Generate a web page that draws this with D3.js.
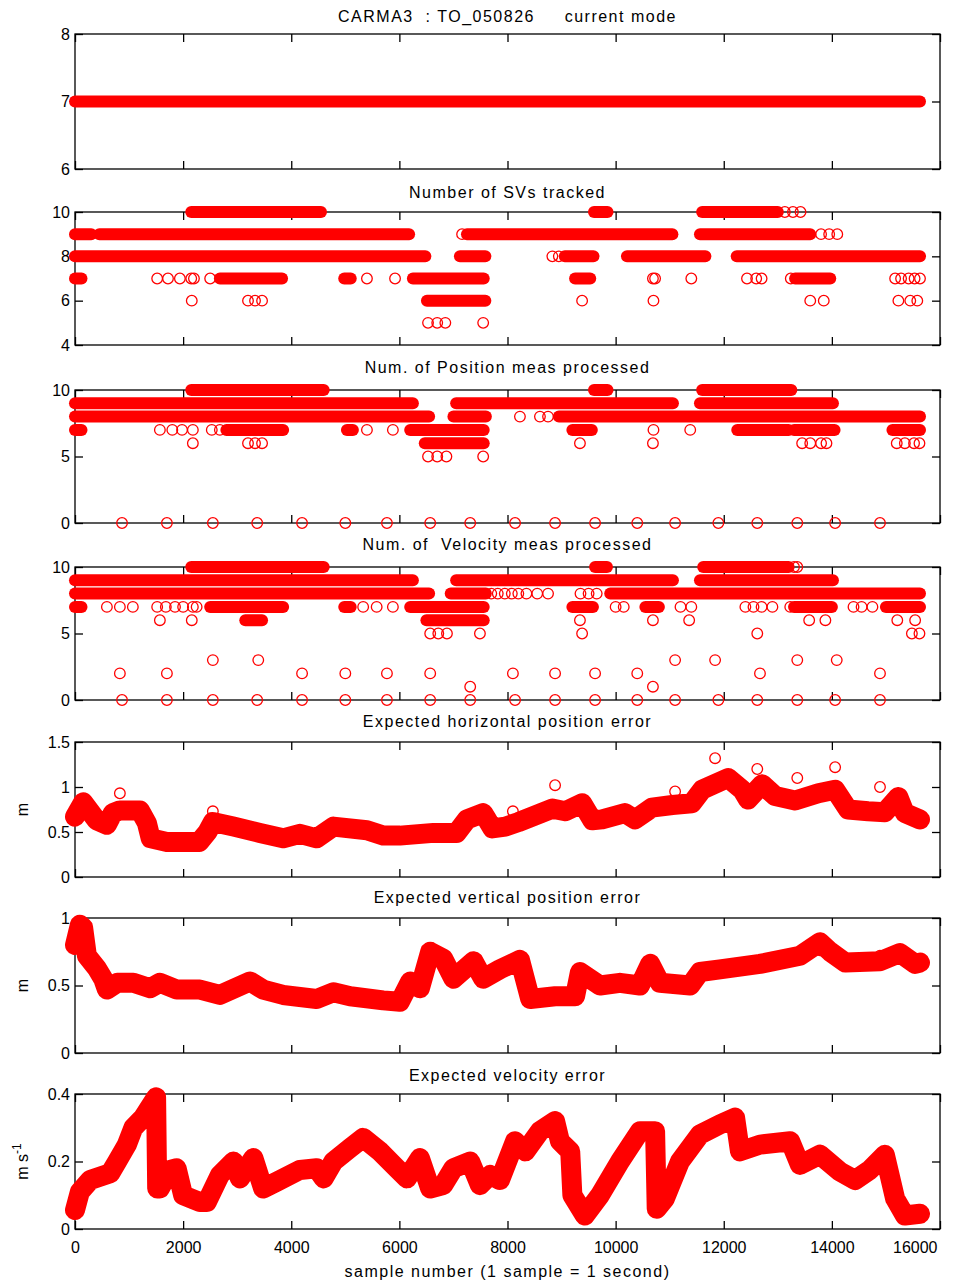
<!DOCTYPE html>
<html>
<head>
<meta charset="utf-8">
<script src="https://cdn.jsdelivr.net/npm/d3@7"></script>
<style>
  body { margin: 0; background: #fff; }
  svg text { font-family: "Liberation Sans", Arial, sans-serif; fill: #000; }
</style>
</head>
<body>
<svg id="chart" width="970" height="1285"></svg>
<script>
// ---- data ----
// runs are dense stretches of markers: [value, firstSample, lastSample]
// points are single markers: [sample, value]
const xTicks = [0, 2000, 4000, 6000, 8000, 10000, 12000, 14000, 16000];

const modeRuns = [[7, 0, 15630]];

const svRuns = [
  [10, 2150, 4550], [10, 9600, 9850], [10, 11600, 13000],
  [9, 0, 300], [9, 450, 6180], [9, 7250, 11050], [9, 11560, 13600],
  [8, 0, 6480], [8, 7120, 7590], [8, 9060, 9590], [8, 10210, 11660], [8, 12240, 15630],
  [7, 0, 120], [7, 2680, 3830], [7, 4980, 5100], [7, 6250, 7560], [7, 9250, 9530], [7, 13320, 13970],
  [6, 6510, 7590]
];
const svPoints = [
  [13130, 10], [13280, 10], [13420, 10],
  [7160, 9], [13800, 9], [13950, 9], [14100, 9],
  [8830, 8], [8950, 8],
  [1520, 7], [1720, 7], [1940, 7], [2150, 7], [2200, 7], [2500, 7], [5400, 7], [5920, 7],
  [10690, 7], [10730, 7], [11400, 7], [12430, 7], [12600, 7], [12700, 7], [13240, 7],
  [15170, 7], [15280, 7], [15420, 7], [15530, 7], [15630, 7],
  [2160, 6], [3200, 6], [3330, 6], [3460, 6], [9380, 6], [10700, 6], [13600, 6], [13850, 6],
  [15230, 6], [15450, 6], [15580, 6],
  [6530, 5], [6700, 5], [6850, 5], [7550, 5]
];

const zeroSamples = [870, 1700, 2550, 3370, 4200, 5000, 5770, 6570, 7310, 8140, 8880,
  9620, 10400, 11100, 11900, 12620, 13360, 14060, 14890];

const posRuns = [
  [10, 2150, 4600], [10, 9600, 9850], [10, 11600, 13250],
  [9, 0, 6250], [9, 7050, 11060], [9, 11560, 14020],
  [8, 0, 6550], [8, 7000, 7600], [8, 8950, 15630],
  [7, 0, 120], [7, 2800, 3850], [7, 5030, 5140], [7, 6200, 7560], [7, 9200, 9560],
  [7, 12250, 13200], [7, 13300, 14050], [7, 15120, 15630],
  [6, 6470, 7560]
];
const posPoints = [
  [8230, 8], [8600, 8], [8750, 8],
  [1570, 7], [1800, 7], [1980, 7], [2180, 7], [2530, 7], [2680, 7], [5400, 7], [5880, 7],
  [10700, 7], [11380, 7],
  [2180, 6], [3200, 6], [3330, 6], [3460, 6], [9340, 6], [10690, 6], [13450, 6], [13600, 6],
  [13800, 6], [13900, 6], [15200, 6], [15350, 6], [15520, 6], [15620, 6],
  [6530, 5], [6700, 5], [6870, 5], [7550, 5]
].concat(zeroSamples.map(s => [s, 0]));

const velRuns = [
  [10, 2150, 4600], [10, 9620, 9840], [10, 11620, 13200],
  [9, 0, 6250], [9, 7050, 11060], [9, 11560, 14020],
  [8, 0, 6550], [8, 6950, 7600], [8, 9900, 15630],
  [7, 0, 120], [7, 2500, 3850], [7, 4980, 5100], [7, 6200, 7560], [7, 9200, 9580],
  [7, 10550, 10800], [7, 13300, 14000], [7, 15000, 15630],
  [6, 3150, 3460], [6, 6500, 7560]
];
const velPoints = [
  [13300, 10], [13360, 10],
  [7700, 8], [7820, 8], [7950, 8], [8080, 8], [8200, 8], [8350, 8], [8550, 8], [8750, 8],
  [9350, 8], [9500, 8], [9650, 8],
  [590, 7], [830, 7], [1070, 7], [1520, 7], [1680, 7], [1850, 7], [2000, 7], [2180, 7], [2250, 7],
  [5330, 7], [5580, 7], [5880, 7], [10000, 7], [10150, 7], [11200, 7], [11400, 7],
  [12400, 7], [12550, 7], [12700, 7], [12900, 7], [13230, 7], [14400, 7], [14550, 7], [14750, 7],
  [1570, 6], [2160, 6], [9340, 6], [10690, 6], [11360, 6], [13580, 6], [13880, 6], [15210, 6], [15540, 6],
  [6570, 5], [6720, 5], [6880, 5], [7490, 5], [9380, 5], [12620, 5], [15480, 5], [15620, 5],
  [2550, 3], [3390, 3], [11100, 3], [11840, 3], [13360, 3], [14090, 3],
  [830, 2], [1700, 2], [4200, 2], [5000, 2], [5770, 2], [6570, 2], [8100, 2], [8880, 2],
  [9620, 2], [10400, 2], [12670, 2], [14890, 2],
  [7310, 1], [10690, 1]
].concat(zeroSamples.map(s => [s, 0]));

// continuous error traces: [sample, value]
const hposErr = [
  [0, 0.67], [150, 0.83], [400, 0.63], [590, 0.58], [700, 0.71], [830, 0.74], [1200, 0.74],
  [1330, 0.6], [1400, 0.43], [1700, 0.39], [2300, 0.39], [2450, 0.5], [2550, 0.61], [2930, 0.56],
  [3420, 0.49], [3850, 0.43], [4160, 0.48], [4470, 0.43], [4780, 0.56], [5400, 0.52], [5700, 0.46],
  [6010, 0.46], [6630, 0.49], [7060, 0.49], [7250, 0.64], [7550, 0.71], [7590, 0.67], [7720, 0.54],
  [7960, 0.56], [8200, 0.61], [8830, 0.76], [9070, 0.73], [9380, 0.82], [9570, 0.63], [9750, 0.64],
  [10170, 0.71], [10360, 0.64], [10670, 0.77], [11050, 0.8], [11410, 0.82], [11600, 0.97],
  [12080, 1.1], [12340, 0.97], [12450, 0.86], [12710, 1.03], [12950, 0.9], [13320, 0.85],
  [13750, 0.93], [14060, 0.97], [14300, 0.75], [14670, 0.73], [14980, 0.72], [15230, 0.89],
  [15350, 0.71], [15630, 0.64]
];
const hposOutliers = [
  [830, 0.93], [2550, 0.73], [8100, 0.73], [8880, 1.02], [11100, 0.95], [11840, 1.32],
  [12620, 1.2], [13360, 1.1], [14060, 1.22], [14890, 1.0]
];

const vposErr = [
  [0, 0.8], [90, 0.95], [150, 0.93], [220, 0.72], [400, 0.63], [520, 0.55], [590, 0.47],
  [780, 0.52], [1080, 0.52], [1390, 0.48], [1570, 0.52], [1880, 0.47], [2310, 0.47], [2680, 0.43],
  [3240, 0.53], [3480, 0.47], [3850, 0.43], [4470, 0.4], [4780, 0.45], [5090, 0.42], [5700, 0.39],
  [6010, 0.38], [6200, 0.53], [6380, 0.48], [6570, 0.75], [6810, 0.7], [7000, 0.55], [7370, 0.68],
  [7550, 0.55], [7860, 0.62], [8230, 0.69], [8420, 0.4], [8880, 0.42], [9250, 0.42], [9340, 0.6],
  [9710, 0.5], [10080, 0.52], [10450, 0.5], [10640, 0.66], [10820, 0.52], [11380, 0.5],
  [11560, 0.6], [11930, 0.62], [12670, 0.66], [13410, 0.72], [13780, 0.82], [13970, 0.75],
  [14250, 0.67], [14890, 0.68], [15260, 0.74], [15540, 0.66], [15630, 0.67]
];
const vposOutliers = [[13780, 0.76], [14890, 0.72]];

const velErr = [
  [0, 0.056], [90, 0.11], [280, 0.145], [650, 0.165], [780, 0.2], [960, 0.25], [1080, 0.3],
  [1260, 0.33], [1500, 0.39], [1520, 0.12], [1570, 0.12], [1760, 0.175], [1880, 0.18], [2000, 0.1],
  [2310, 0.08], [2440, 0.08], [2680, 0.16], [2930, 0.2], [3050, 0.15], [3300, 0.21], [3480, 0.12],
  [3730, 0.14], [4160, 0.175], [4470, 0.18], [4600, 0.15], [4780, 0.2], [5090, 0.24], [5330, 0.27],
  [5640, 0.23], [5950, 0.18], [6140, 0.15], [6380, 0.21], [6570, 0.12], [6810, 0.13], [7000, 0.18],
  [7310, 0.2], [7490, 0.13], [7680, 0.16], [7860, 0.145], [8140, 0.26], [8330, 0.23], [8600, 0.29],
  [8880, 0.32], [8970, 0.26], [9160, 0.23], [9200, 0.1], [9430, 0.04], [9710, 0.1], [10080, 0.2],
  [10450, 0.29], [10730, 0.29], [10760, 0.06], [10910, 0.09], [11190, 0.2], [11560, 0.28],
  [11930, 0.31], [12210, 0.33], [12300, 0.23], [12670, 0.25], [13230, 0.26], [13410, 0.19],
  [13780, 0.22], [14150, 0.17], [14430, 0.145], [14700, 0.175], [14980, 0.22], [15170, 0.09],
  [15350, 0.04], [15630, 0.045]
];
const velOutliers = [
  [1500, 0.344], [1500, 0.314], [1500, 0.285], [1500, 0.249], [1500, 0.22], [1500, 0.184],
  [9180, 0.17], [9180, 0.12], [9180, 0.09],
  [10740, 0.23], [10740, 0.18], [10740, 0.13], [10740, 0.09]
];

// ---- layout ----
const RED = "#ff0000";
const left = 75, right = 940;
const svg = d3.select("#chart");
const x = d3.scaleLinear().domain([0, 16000]).range([left, right]);

const panels = [
  { title: "CARMA3  : TO_050826     current mode", top: 34, h: 135, titleY: 22,
    domain: [6, 8], ticks: [6, 7, 8], runs: modeRuns, points: [] },
  { title: "Number of SVs tracked", top: 212, h: 133, titleY: 198,
    domain: [4, 10], ticks: [4, 6, 8, 10], runs: svRuns, points: svPoints },
  { title: "Num. of Position meas processed", top: 390, h: 133, titleY: 373,
    domain: [0, 10], ticks: [0, 5, 10], runs: posRuns, points: posPoints },
  { title: "Num. of  Velocity meas processed", top: 567, h: 133, titleY: 550,
    domain: [0, 10], ticks: [0, 5, 10], runs: velRuns, points: velPoints },
  { title: "Expected horizontal position error", top: 742, h: 135, titleY: 727, ylabel: "m",
    domain: [0, 1.5], ticks: [0, 0.5, 1, 1.5], trace: hposErr, points: hposOutliers },
  { title: "Expected vertical position error", top: 918, h: 135, titleY: 903, ylabel: "m",
    domain: [0, 1], ticks: [0, 0.5, 1], trace: vposErr, points: vposOutliers },
  { title: "Expected velocity error", top: 1094, h: 135, titleY: 1081, ylabel: "ms-1",
    domain: [0, 0.4], ticks: [0, 0.2, 0.4], trace: velErr, points: velOutliers, last: true }
];

panels.forEach((p) => {
  const y = d3.scaleLinear().domain(p.domain).range([p.top + p.h, p.top]);
  const g = svg.append("g");

  // box + inward ticks
  g.append("rect")
    .attr("x", left).attr("y", p.top)
    .attr("width", right - left).attr("height", p.h)
    .attr("fill", "none").attr("stroke", "#000").attr("stroke-width", 1.3);

  const styleAxis = (sel) => {
    sel.select(".domain").remove();
    sel.selectAll(".tick line").attr("stroke", "#000").attr("stroke-width", 1.3);
    sel.selectAll("text").style("font-size", "16px").style("font-family", "Liberation Sans, Arial, sans-serif");
  };

  const bottom = g.append("g").attr("transform", `translate(0,${p.top + p.h})`)
    .call(d3.axisBottom(x).tickValues(xTicks).tickSizeInner(-8).tickSizeOuter(0).tickPadding(13)
      .tickFormat(p.last ? d3.format("d") : () => ""))
    .call(styleAxis);
  // the last label sits pulled in from the right edge, as in the original figure
  bottom.selectAll(".tick text").filter(d => d === 16000)
    .attr("text-anchor", "end").attr("x", -3);

  g.append("g").attr("transform", `translate(0,${p.top})`)
    .call(d3.axisTop(x).tickValues(xTicks).tickSizeInner(-8).tickSizeOuter(0).tickFormat(() => ""))
    .call(styleAxis);
  g.append("g").attr("transform", `translate(${left},0)`)
    .call(d3.axisLeft(y).tickValues(p.ticks).tickSizeInner(-8).tickSizeOuter(0).tickPadding(5)
      .tickFormat(d3.format("~g")))
    .call(styleAxis);
  g.append("g").attr("transform", `translate(${right},0)`)
    .call(d3.axisRight(y).tickValues(p.ticks).tickSizeInner(-8).tickSizeOuter(0).tickFormat(() => ""))
    .call(styleAxis);

  // title
  svg.append("text")
    .attr("x", (left + right) / 2).attr("y", p.titleY)
    .attr("text-anchor", "middle")
    .style("font-size", "16px").style("white-space", "pre").style("letter-spacing", "1.5px")
    .text(p.title);

  // dense marker runs
  if (p.runs) {
    g.selectAll(".run").data(p.runs).enter().append("line")
      .attr("x1", d => x(d[1])).attr("x2", d => x(d[2]))
      .attr("y1", d => y(d[0])).attr("y2", d => y(d[0]))
      .attr("stroke", RED).attr("stroke-width", 12).attr("stroke-linecap", "round");
  }

  // continuous trace of overlapping markers
  if (p.trace) {
    g.append("path").datum(p.trace)
      .attr("d", d3.line().x(d => x(d[0])).y(d => y(d[1])))
      .attr("fill", "none").attr("stroke", RED).attr("stroke-width", 20)
      .attr("stroke-linejoin", "round").attr("stroke-linecap", "round");
  }

  // single markers
  g.selectAll(".pt").data(p.points).enter().append("circle")
    .attr("cx", d => x(d[0])).attr("cy", d => y(d[1])).attr("r", 5.3)
    .attr("fill", "none").attr("stroke", RED).attr("stroke-width", 1.3);

  // y label
  if (p.ylabel) {
    const cy = p.top + p.h / 2;
    const t = svg.append("text")
      .attr("transform", `translate(28,${cy}) rotate(-90)`)
      .attr("text-anchor", "middle").style("font-size", "16px");
    if (p.ylabel === "m") {
      t.text("m");
    } else {
      t.append("tspan").text("m s");
      t.append("tspan").attr("dy", -7).style("font-size", "12px").text("-1");
    }
  }
});

svg.append("text")
  .attr("x", (left + right) / 2).attr("y", 1277)
  .attr("text-anchor", "middle").style("font-size", "16px").style("letter-spacing", "1.5px")
  .text("sample number (1 sample = 1 second)");
</script>
</body>
</html>
